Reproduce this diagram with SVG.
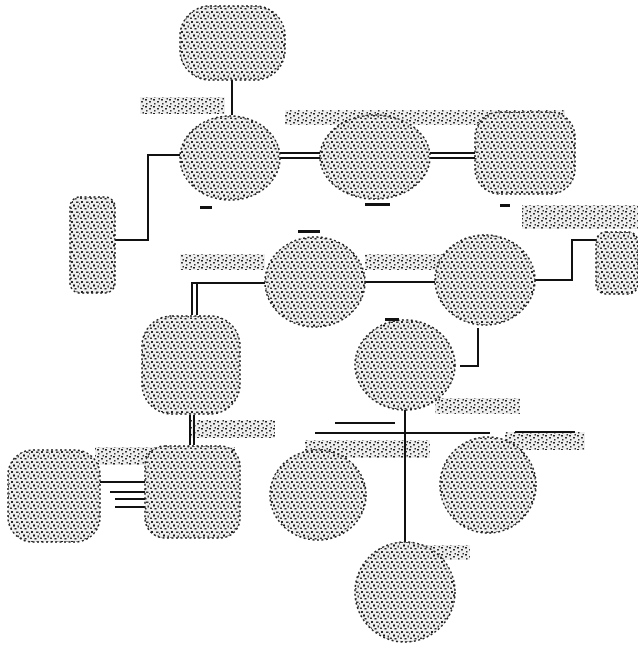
<svg xmlns="http://www.w3.org/2000/svg" width="638" height="647" viewBox="0 0 638 647">
<defs>
<pattern id="st" width="10" height="10" patternUnits="userSpaceOnUse">
<rect width="10" height="10" fill="#eeeeee"/>
<rect x="1" y="1" width="2" height="2" fill="#222"/>
<rect x="6" y="1.5" width="2.5" height="1.5" fill="#333"/>
<rect x="3" y="4.5" width="2" height="2" fill="#111"/>
<rect x="7.5" y="5.5" width="1.5" height="2" fill="#333"/>
<rect x="0" y="7.5" width="2" height="1.5" fill="#333"/>
<rect x="4.5" y="8" width="2" height="1.5" fill="#222"/>
<rect x="9" y="3" width="1" height="1.5" fill="#555"/>
</pattern>
<pattern id="lb" width="8" height="7" patternUnits="userSpaceOnUse">
<rect width="8" height="7" fill="#eeeeee"/>
<rect x="1" y="1" width="2" height="1.5" fill="#222"/>
<rect x="5" y="3" width="2" height="1.5" fill="#333"/>
<rect x="2" y="5" width="1.5" height="1.5" fill="#333"/>
<rect x="6.5" y="0" width="1.5" height="1.5" fill="#333"/>
</pattern>
</defs>
<style>
.n{fill:url(#st);stroke:#222;stroke-width:1.5;stroke-dasharray:2 2.5}
.l{fill:url(#lb)}
.c{fill:none;stroke:#111;stroke-width:2}
.m{fill:#111}
</style>
<g id="labels">
<rect class="l" x="140" y="97" width="85" height="17"/>
<rect class="l" x="285" y="110" width="280" height="15"/>
<rect class="l" x="522" y="205" width="116" height="24"/>
<rect class="l" x="180" y="254" width="85" height="16"/>
<rect class="l" x="365" y="254" width="80" height="16"/>
<rect class="l" x="190" y="420" width="85" height="18"/>
<rect class="l" x="95" y="447" width="140" height="18"/>
<rect class="l" x="305" y="440" width="125" height="18"/>
<rect class="l" x="505" y="432" width="80" height="18"/>
<rect class="l" x="400" y="545" width="70" height="15"/>
<rect class="l" x="435" y="398" width="85" height="16"/>
</g>
<g id="connectors">
<path class="c" d="M232 80 V115"/>
<path class="c" d="M280 153 H320 M280 158 H320"/>
<path class="c" d="M430 153 H475 M430 158 H475"/>
<path class="c" d="M180 155 H148 V240 H115"/>
<path class="c" d="M535 280 H572 V240 H600"/>
<path class="c" d="M365 282 H435"/>
<path class="c" d="M265 283 H192 V315 M197 283 V315"/>
<path class="c" d="M190 415 V445 M194 415 V445"/>
<path class="c" d="M100 482 H145 M110 492 H145 M115 499 H145 M115 507 H145"/>
<path class="c" d="M460 366 H478 V328"/>
<path class="c" d="M405 410 V545 H420"/>
<path class="c" d="M315 433 H490 M335 423 H395"/>
<path class="c" d="M515 432 H575"/>
</g>
<g id="n1"><rect class="n" x="180" y="6" width="105" height="74" rx="30"/></g>
<g id="n2"><ellipse class="n" cx="230" cy="158" rx="50" ry="42"/></g>
<g id="n3"><ellipse class="n" cx="375" cy="157" rx="55" ry="42"/></g>
<g id="n4"><rect class="n" x="475" y="112" width="100" height="82" rx="25"/></g>
<g id="n5"><rect class="n" x="70" y="197" width="45" height="96" rx="10"/></g>
<g id="n6"><ellipse class="n" cx="315" cy="282" rx="50" ry="45"/></g>
<g id="n7"><ellipse class="n" cx="485" cy="280" rx="50" ry="45"/></g>
<g id="n8"><rect class="n" x="596" y="232" width="42" height="62" rx="10"/></g>
<g id="n9"><rect class="n" x="142" y="316" width="98" height="98" rx="30"/></g>
<g id="n10"><ellipse class="n" cx="405" cy="365" rx="50" ry="45"/></g>
<g id="n11"><rect class="n" x="8" y="450" width="92" height="92" rx="25"/></g>
<g id="n12"><rect class="n" x="145" y="446" width="95" height="92" rx="20"/></g>
<g id="n13"><ellipse class="n" cx="318" cy="495" rx="48" ry="45"/></g>
<g id="n14"><ellipse class="n" cx="488" cy="485" rx="48" ry="48"/></g>
<g id="n15"><ellipse class="n" cx="405" cy="592" rx="50" ry="50"/></g>
<g id="marks">
<rect class="m" x="200" y="206" width="12" height="3"/>
<rect class="m" x="365" y="203" width="25" height="3"/>
<rect class="m" x="500" y="204" width="10" height="3"/>
<rect class="m" x="298" y="230" width="22" height="3"/>
<rect class="m" x="385" y="318" width="14" height="3"/>
</g>
</svg>
